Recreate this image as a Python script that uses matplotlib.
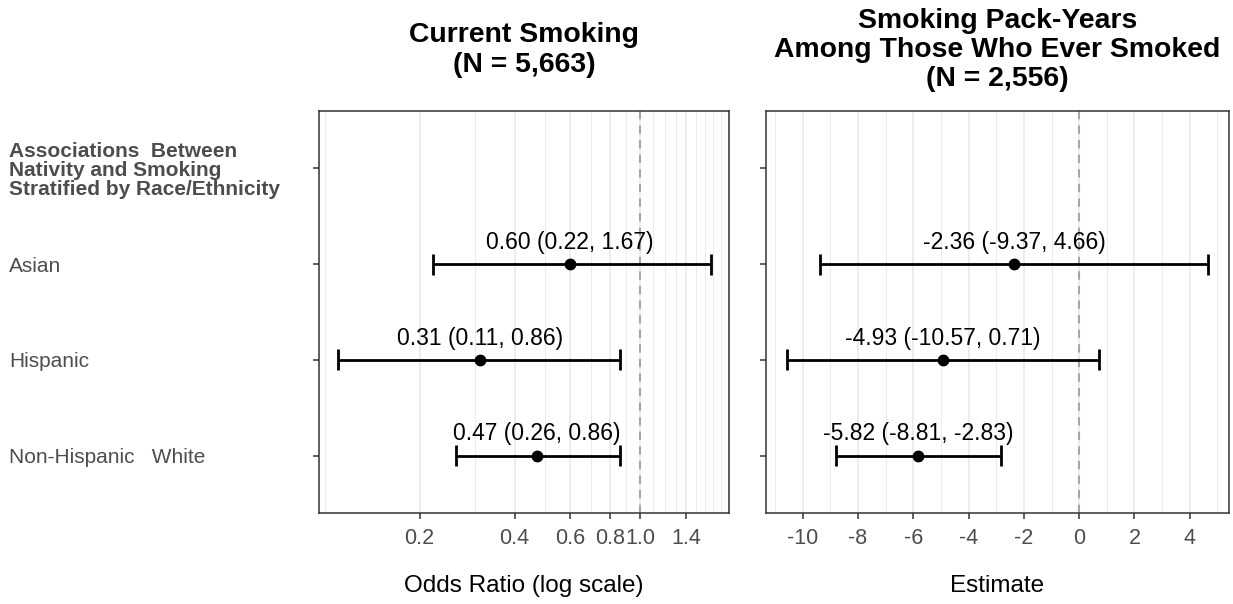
import numpy as np
import matplotlib
matplotlib.use('Agg')
from matplotlib import pyplot as plt
from matplotlib.ticker import FixedLocator, NullFormatter

plt.rcParams['font.family'] = ['Liberation Sans', 'DejaVu Sans']

groups = ['Non-Hispanic   White', 'Hispanic', 'Asian']
header = 'Associations  Between\nNativity and Smoking\nStratified by Race/Ethnicity'

or_est = [0.47, 0.31, 0.60]
or_lo = [0.26, 0.11, 0.22]
or_hi = [0.86, 0.86, 1.67]

py_est = [-5.82, -4.93, -2.36]
py_lo = [-8.81, -10.57, -9.37]
py_hi = [-2.83, 0.71, 4.66]

titles = ['Current Smoking\n(N = 5,663)',
          'Smoking Pack-Years\nAmong Those Who Ever Smoked\n(N = 2,556)']
xlabels = ['Odds Ratio (log scale)', 'Estimate']

or_major = [0.2, 0.4, 0.6, 0.8, 1.0, 1.4]
or_minor = [0.1, 0.3, 0.5, 0.7, 0.9, 1.1, 1.2, 1.3, 1.5, 1.6, 1.7, 1.8, 1.9]
py_major = [-10, -8, -6, -4, -2, 0, 2, 4]
py_minor = [-11, -9, -7, -5, -3, -1, 1, 3, 5]

W, H = 1233, 604
fig = plt.figure(figsize=(W / 100, H / 100), dpi=100)
ax1 = fig.add_axes([319 / W, 1 - 513 / H, 410 / W, 402 / H])
ax2 = fig.add_axes([766 / W, 1 - 513 / H, 463 / W, 402 / H])

ypos = np.arange(1, len(groups) + 1)
TICKLEN = 4.5  # pt


def fmt(v):
    return f'{v:.2f}'


def draw(ax, est, lo, hi, ref, major, minor, xlim, title, xlabel, log, show_y):
    if log:
        ax.set_xscale('log')
    for x in minor:
        ax.axvline(x, color='#ebebeb', lw=0.7, zorder=0)
    for x in major:
        ax.axvline(x, color='#ebebeb', lw=1.3, zorder=0)
    ax.axvline(ref, color='#a6a6a6', lw=1.5, ls=(0, (4, 3)), zorder=1)
    ax.hlines(ypos, lo, hi, color='black', lw=2, zorder=2)
    ax.vlines(lo, ypos - 0.11, ypos + 0.11, color='black', lw=2, zorder=2)
    ax.vlines(hi, ypos - 0.11, ypos + 0.11, color='black', lw=2, zorder=2)
    ax.plot(est, ypos, 'o', color='black', ms=7.5, zorder=3)
    for e, l, h, y in zip(est, lo, hi, ypos):
        ax.annotate(f'{fmt(e)} ({fmt(l)}, {fmt(h)})', (e, y), xytext=(0, 11),
                    textcoords='offset points', ha='center', va='baseline',
                    fontsize=16.5, color='black')
    ax.set_xlim(*xlim)
    ax.set_ylim(0.4, 4.6)
    ax.xaxis.set_major_locator(FixedLocator(major))
    ax.xaxis.set_minor_locator(FixedLocator(minor))
    ax.xaxis.set_minor_formatter(NullFormatter())
    if log:
        ax.set_xticklabels([f'{m:.1f}' for m in major])
    else:
        ax.set_xticklabels([f'{m:g}' for m in major])
    ax.tick_params(axis='x', which='minor', length=0)
    ax.tick_params(axis='both', which='major', length=TICKLEN, width=1.1,
                   color='#333333', labelsize=15.5, labelcolor='#4d4d4d')
    ax.tick_params(axis='x', which='major', pad=6)
    ax.set_yticks(list(ypos) + [4])
    if show_y:
        ax.set_yticklabels(groups + [header])
        ax.tick_params(axis='y', pad=(319 - 9) * 0.72 - TICKLEN, labelsize=15)
        for lab in ax.get_yticklabels():
            lab.set_horizontalalignment('left')
        hl = ax.get_yticklabels()[-1]
        hl.set_fontweight('bold')
        hl.set_fontsize(15)
        hl.set_linespacing(1.02)
    else:
        ax.set_yticklabels([])
    for s in ax.spines.values():
        s.set_color('#333333')
        s.set_linewidth(1.1)
    ax.set_xlabel(xlabel, fontsize=17.5, color='black', labelpad=19)
    bb = ax.get_position()
    fig.text(bb.x0 + bb.width / 2, 1 - 50 / H, title, ha='center', va='center',
             fontsize=20.4, fontweight='bold', linespacing=1.17)


draw(ax1, or_est, or_lo, or_hi, 1.0, or_major, or_minor, (0.096, 1.91),
     titles[0], xlabels[0], True, True)
draw(ax2, py_est, py_lo, py_hi, 0, py_major, py_minor, (-11.33, 5.42),
     titles[1], xlabels[1], False, False)

fig.savefig('out.png', dpi=100)
